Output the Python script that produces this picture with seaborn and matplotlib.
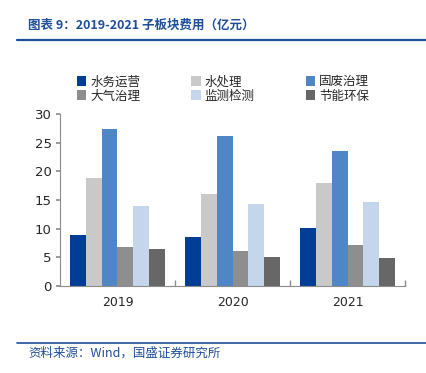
import matplotlib
matplotlib.use("Agg")
import matplotlib.pyplot as plt
import pandas as pd
import seaborn as sns

years = ["2019", "2020", "2021"]
segments = ["水务运营", "水处理", "固废治理", "大气治理", "监测检测", "节能环保"]
water_ops = [8.9, 8.55, 10.05]
water_treat = [18.9, 16.05, 18.0]
solid_waste = [27.3, 26.2, 23.55]
air = [6.75, 6.05, 7.1]
monitoring = [14.0, 14.25, 14.65]
energy = [6.5, 5.0, 4.85]

colors = ["#003E96", "#C9C9C9", "#4F86C6", "#8E8E8E", "#C5D6EC", "#676767"]

series = [water_ops, water_treat, solid_waste, air, monitoring, energy]
rows = []
for seg, vals in zip(segments, series):
    for yr, v in zip(years, vals):
        rows.append({"year": yr, "segment": seg, "value": v})
df = pd.DataFrame(rows)

sns.set_theme(style="white")
plt.rcParams["font.family"] = ["Noto Sans CJK SC", "DejaVu Sans"]
blue = "#1F4E9A"

fig = plt.figure(figsize=(4.27, 3.73), dpi=100)
ax = fig.add_axes([0.1405, 0.2332, 0.808, 0.4612])
sns.barplot(data=df, x="year", y="value", hue="segment", hue_order=segments,
            order=years, palette=colors, width=0.82, saturation=1, ax=ax,
            linewidth=0, legend=True)

ax.set_ylim(0, 30)
ax.set_xlim(-0.5, 2.5)
ax.set_yticks(range(0, 31, 5))
ax.set_xlabel("")
ax.set_ylabel("")
for s in ["top", "right"]:
    ax.spines[s].set_visible(False)
for s in ["left", "bottom"]:
    ax.spines[s].set_color("#8C8C8C")
    ax.spines[s].set_linewidth(0.8)
ax.tick_params(axis="y", length=3, color="#8C8C8C", left=True, labelsize=9.5, pad=3)
ax.tick_params(axis="x", length=0, labelsize=9, pad=7)
# group boundary ticks on the x-axis
ax.set_xticks([0.5, 1.5, 2.5], minor=True)
ax.tick_params(axis="x", which="minor", bottom=True, direction="in", length=4,
               color="#8C8C8C")
for lbl in ax.get_xticklabels() + ax.get_yticklabels():
    lbl.set_fontfamily("DejaVu Sans")

# legend: rows 水务运营/水处理/固废治理, then 大气治理/监测检测/节能环保
handles, labels = ax.get_legend_handles_labels()
order = [0, 3, 1, 4, 2, 5]
ax.legend([handles[i] for i in order], [labels[i] for i in order], ncol=3,
          loc="lower left", bbox_to_anchor=(0.035, 1.037), frameon=False,
          fontsize=9, handlelength=0.75, handleheight=0.9, handletextpad=0.3,
          columnspacing=4.1, labelspacing=0.1, borderaxespad=0)

fig.text(0.066, 0.933, "图表 9：2019-2021 子板块费用（亿元）", color=blue,
         fontsize=9, fontweight="bold", fontstyle="italic", va="center")
fig.add_artist(plt.Line2D([0.04, 1.0], [0.893, 0.893], color=blue, lw=1.6))
fig.add_artist(plt.Line2D([0.04, 1.0], [0.080, 0.080], color=blue, lw=1.2))
fig.text(0.066, 0.052, "资料来源：Wind，国盛证券研究所", color=blue,
         fontsize=9, fontstyle="italic", va="center")

fig.savefig("out.png", dpi=100)
